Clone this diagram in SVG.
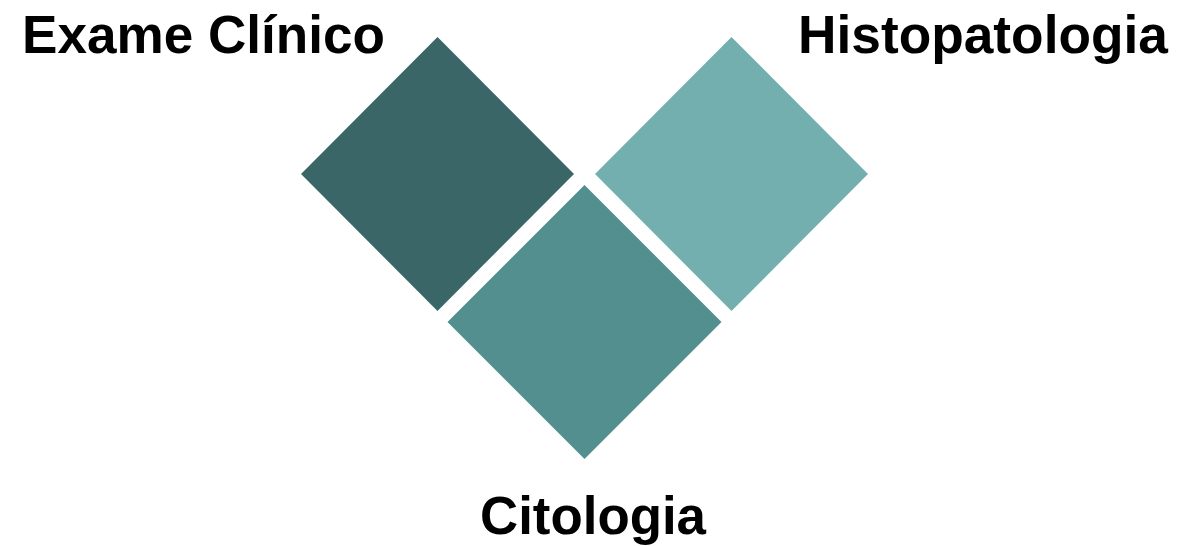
<svg xmlns="http://www.w3.org/2000/svg" width="1178" height="546" viewBox="0 0 1178 546">
<style>
.lbl{font-family:"Liberation Sans",Arial,sans-serif;font-weight:bold;font-size:53px;fill:#000}
</style>
<rect width="1178" height="546" fill="#fff"/>
<g id="exame-clinico">
<polygon points="437.5,37 574,174 437.5,311 301,174" fill="#3a6667"/>
<text class="lbl" x="22" y="53" textLength="363" lengthAdjust="spacingAndGlyphs">Exame Clínico</text>
</g>
<g id="histopatologia">
<polygon points="731.5,37 868,174 731.5,311 595,174" fill="#74afb0"/>
<text class="lbl" x="798" y="53" textLength="370" lengthAdjust="spacingAndGlyphs">Histopatologia</text>
</g>
<g id="citologia">
<polygon points="584.5,185 721.5,322 584.5,459 447.5,322" fill="#548f8f"/>
<text class="lbl" x="480" y="534" textLength="226" lengthAdjust="spacingAndGlyphs">Citologia</text>
</g>
<g id="connectors"></g>
</svg>
